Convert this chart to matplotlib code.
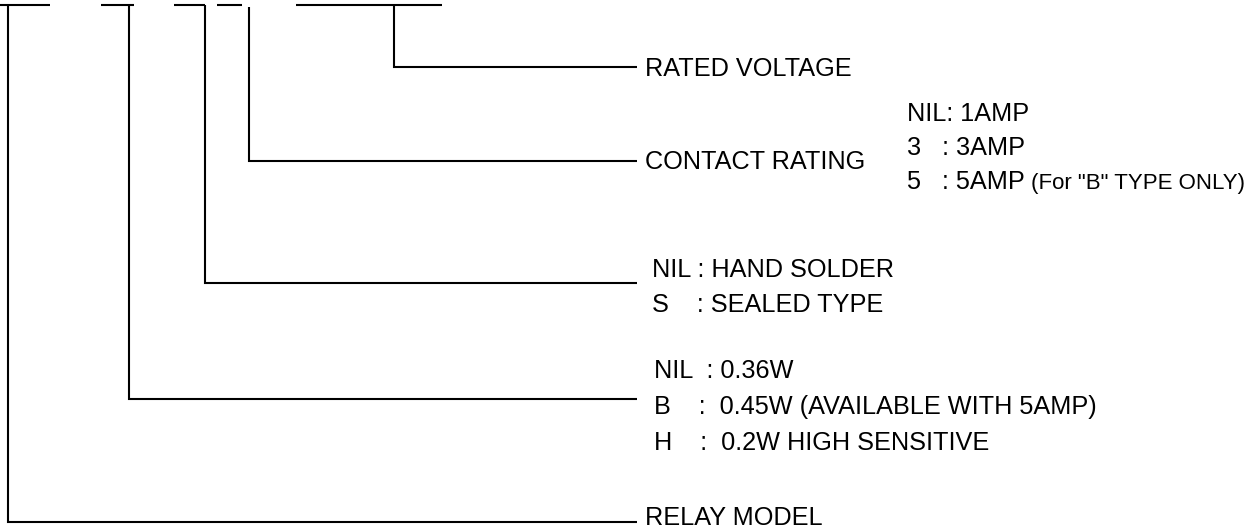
import matplotlib
matplotlib.use("Agg")
import matplotlib.pyplot as plt

plt.rcParams['font.family'] = ['Liberation Sans', 'DejaVu Sans']

W, H = 1257, 532

# code segments along the top (x start, x end)
code_bars = [(0, 50), (101, 134), (174, 205), (217, 242), (296, 442)]
# leaders: vertical x, top y, level y of the horizontal run
leader_x = [8, 129, 205, 249, 394]
leader_top = [5, 5, 5, 7, 5]
leader_y = [522, 399, 283, 161, 67]
leader_end = 637
titles = ["RELAY MODEL", "", "", "CONTACT RATING", "RATED VOLTAGE"]

contact_opts = ["NIL: 1AMP", "3   : 3AMP", "5   : 5AMP "]
contact_note = '(For "B" TYPE ONLY)'
solder_opts = ["NIL : HAND SOLDER", "S    : SEALED TYPE"]
power_opts = ["NIL  : 0.36W", "B    :  0.45W (AVAILABLE WITH 5AMP)", "H    :  0.2W HIGH SENSITIVE"]

fig = plt.figure(figsize=(W / 100, H / 100), dpi=100)
ax = fig.add_axes([0, 0, 1, 1])
ax.set_xlim(0, W)
ax.set_ylim(H, 0)
ax.axis('off')

lw = 1.5
fs = 18.2

for x0, x1 in code_bars:
    ax.plot([x0, x1], [5, 5], color='black', lw=lw, solid_capstyle='butt')

for x, top, y in zip(leader_x, leader_top, leader_y):
    ax.plot([x, x, leader_end], [top, y, y], color='black', lw=lw,
            solid_joinstyle='miter', solid_capstyle='butt')

title_dy = [-4, 0, 0, 1, 2]
for y, t, dy in zip(leader_y, titles, title_dy):
    if t:
        ax.text(645, y + dy, t, fontsize=fs, ha='left', va='center')

# contact rating options
for i, s in enumerate(contact_opts):
    t = ax.text(907, 114 + 34 * i, s, fontsize=fs, ha='left', va='center')
ax.annotate(contact_note, xy=(1, 0.45), xycoords=t, fontsize=16,
            ha='left', va='center')

for i, s in enumerate(solder_opts):
    ax.text(652, 270 + 35 * i, s, fontsize=fs, ha='left', va='center')

for i, s in enumerate(power_opts):
    ax.text(654, 371 + 36 * i, s, fontsize=fs, ha='left', va='center')

fig.savefig("out.png", dpi=100, facecolor='white')
